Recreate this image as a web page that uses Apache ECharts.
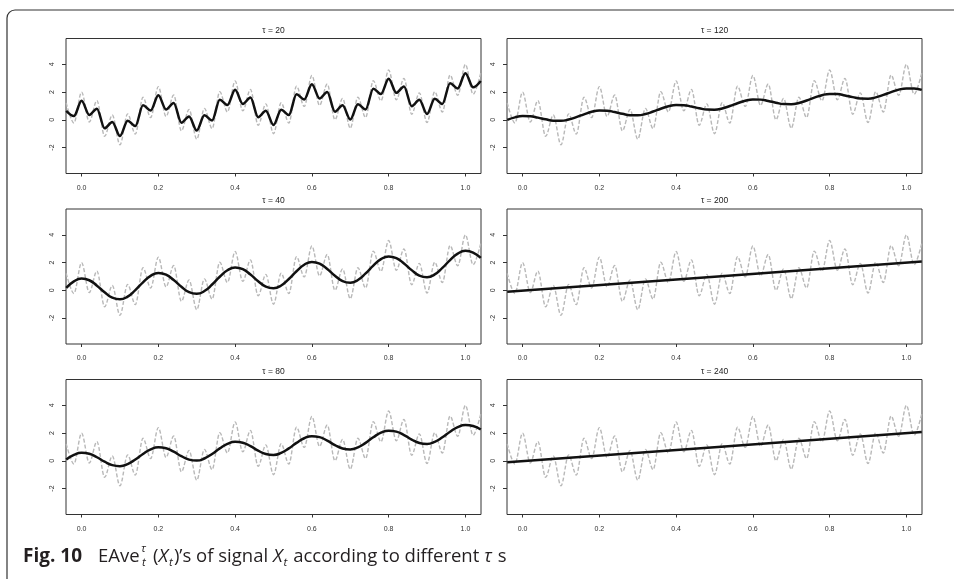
<!DOCTYPE html>
<html>
<head>
<meta charset="utf-8">
<title>EAve of signal Xt</title>
<script src="https://cdn.jsdelivr.net/npm/echarts@6.0.0/dist/echarts.min.js"></script>
<style>
  html, body { margin: 0; padding: 0; background: #fff; }
  #chart { width: 954px; height: 579px; }
</style>
</head>
<body>
<div id="chart"></div>
<script>
// sample times (every 0.02, i.e. at the peaks and troughs of the fast wave)
var tGrid = [-0.04, -0.02, 0.00, 0.02, 0.04, 0.06, 0.08, 0.10, 0.12, 0.14,
  0.16, 0.18, 0.20, 0.22, 0.24, 0.26, 0.28, 0.30, 0.32, 0.34,
  0.36, 0.38, 0.40, 0.42, 0.44, 0.46, 0.48, 0.50, 0.52, 0.54,
  0.56, 0.58, 0.60, 0.62, 0.64, 0.66, 0.68, 0.70, 0.72, 0.74,
  0.76, 0.78, 0.80, 0.82, 0.84, 0.86, 0.88, 0.90, 0.92, 0.94,
  0.96, 0.98, 1.00, 1.02, 1.04];

// signal X_t (gray dashed)
var signal = [1.23, -0.23, 2.00, -0.15, 1.39, -1.19, 0.35, -1.80, 0.43, -1.03,
  1.63, 0.17, 2.40, 0.25, 1.79, -0.79, 0.75, -1.40, 0.83, -0.63,
  2.03, 0.57, 2.80, 0.65, 2.19, -0.39, 1.15, -1.00, 1.23, -0.23,
  2.43, 0.97, 3.20, 1.05, 2.59, 0.01, 1.55, -0.60, 1.63, 0.17,
  2.83, 1.37, 3.60, 1.45, 2.99, 0.41, 1.95, -0.20, 2.03, 0.57,
  3.23, 1.77, 4.00, 1.85, 3.39];

// EAve for each tau (black)
var ave20 = [0.65, 0.27, 1.37, 0.35, 0.81, -0.61, -0.15, -1.17, -0.07, -0.45,
  1.05, 0.67, 1.77, 0.75, 1.21, -0.21, 0.25, -0.77, 0.33, -0.05,
  1.45, 1.07, 2.17, 1.15, 1.61, 0.19, 0.65, -0.37, 0.73, 0.35,
  1.85, 1.47, 2.57, 1.55, 2.01, 0.59, 1.05, 0.03, 1.13, 0.75,
  2.25, 1.87, 2.97, 1.95, 2.41, 0.99, 1.45, 0.43, 1.53, 1.15,
  2.65, 2.27, 3.37, 2.35, 2.81];
var ave40 = [0.18, 0.65, 0.85, 0.73, 0.34, -0.14, -0.53, -0.65, -0.45, 0.02,
  0.58, 1.05, 1.25, 1.13, 0.74, 0.26, -0.13, -0.25, -0.05, 0.42,
  0.98, 1.45, 1.65, 1.53, 1.14, 0.66, 0.27, 0.15, 0.35, 0.82,
  1.38, 1.85, 2.05, 1.93, 1.54, 1.06, 0.67, 0.55, 0.75, 1.22,
  1.78, 2.25, 2.45, 2.33, 1.94, 1.46, 1.07, 0.95, 1.15, 1.62,
  2.18, 2.65, 2.85, 2.73, 2.34];
var ave80 = [0.10, 0.43, 0.58, 0.51, 0.26, -0.06, -0.31, -0.38, -0.23, 0.10,
  0.50, 0.83, 0.98, 0.91, 0.66, 0.34, 0.09, 0.02, 0.17, 0.50,
  0.90, 1.23, 1.38, 1.31, 1.06, 0.74, 0.49, 0.42, 0.57, 0.90,
  1.30, 1.63, 1.78, 1.71, 1.46, 1.14, 0.89, 0.82, 0.97, 1.30,
  1.70, 2.03, 2.18, 2.11, 1.86, 1.54, 1.29, 1.22, 1.37, 1.70,
  2.10, 2.43, 2.58, 2.51, 2.26];
var ave120 = [0.00, 0.18, 0.27, 0.26, 0.16, 0.04, -0.06, -0.07, 0.02, 0.20,
  0.40, 0.58, 0.67, 0.66, 0.56, 0.44, 0.34, 0.33, 0.42, 0.60,
  0.80, 0.98, 1.07, 1.06, 0.96, 0.84, 0.74, 0.73, 0.82, 1.00,
  1.20, 1.38, 1.47, 1.46, 1.36, 1.24, 1.14, 1.13, 1.22, 1.40,
  1.60, 1.78, 1.87, 1.86, 1.76, 1.64, 1.54, 1.53, 1.62, 1.80,
  2.00, 2.18, 2.27, 2.26, 2.16];
// tau 200 / 240 are straight lines
var lineT = [-0.04, 0.50, 1.04];
var ave200 = [-0.10, 0.99, 2.08];
var ave240 = [-0.10, 0.99, 2.08];

var taus = [20, 40, 80, 120, 200, 240];
var xTicks = [0, 0.2, 0.4, 0.6, 0.8, 1.0];
var yTicks = [-2, 0, 2, 4];

function pairs(xs, ys) {
  return xs.map(function (x, i) { return [x, ys[i]]; });
}

var aveData = [
  pairs(tGrid, ave20), pairs(tGrid, ave40), pairs(tGrid, ave80),
  pairs(tGrid, ave120), pairs(lineT, ave200), pairs(lineT, ave240)
];
// only tau=20 still wiggles at every sample, so it is drawn like the signal
var aveWiggly = [true, false, false, false, false, false];

// layout: left column 20/40/80, right column 120/200/240
var colLeft = [66, 507];
var rowTop = [38.5, 209, 379.5];
var plotW = 415, plotH = 135;
var axisColor = '#333';
var labelFont = 'Liberation Sans';

var grids = [], xAxes = [], yAxes = [], series = [], graphics = [];

taus.forEach(function (tau, i) {
  var col = Math.floor(i / 3), row = i % 3;
  var left = colLeft[col], top = rowTop[row];
  grids.push({
    left: left, top: top, width: plotW, height: plotH,
    show: true, borderColor: axisColor, borderWidth: 1, backgroundColor: 'transparent'
  });
  xAxes.push({
    gridIndex: i, type: 'value', min: -0.0406, max: 1.0406, position: 'bottom',
    axisLine: { show: false, onZero: false },
    axisTick: { show: true, customValues: xTicks, length: 3, lineStyle: { color: axisColor } },
    axisLabel: {
      customValues: xTicks, fontSize: 7, color: '#333', fontFamily: labelFont, margin: 11,
      formatter: function (v) { return v.toFixed(1); }
    },
    splitLine: { show: false }
  });
  yAxes.push({
    gridIndex: i, type: 'value', min: -3.87, max: 5.87, position: 'left',
    axisLine: { show: false, onZero: false },
    axisTick: { show: true, customValues: yTicks, length: 4, lineStyle: { color: axisColor } },
    axisLabel: {
      customValues: yTicks, fontSize: 7, color: '#333', fontFamily: labelFont, margin: 10, rotate: 90
    },
    splitLine: { show: false }
  });
  series.push({
    type: 'line', xAxisIndex: i, yAxisIndex: i, data: pairs(tGrid, signal),
    smooth: 0.33, smoothMonotone: 'x', showSymbol: false, silent: true, z: 2,
    lineStyle: { color: '#b8b8b8', width: 1.4, type: [4, 2] }
  });
  series.push({
    type: 'line', xAxisIndex: i, yAxisIndex: i, data: aveData[i],
    smooth: aveWiggly[i] ? 0.33 : 0.5, smoothMonotone: aveWiggly[i] ? 'x' : null,
    showSymbol: false, silent: true, z: 3,
    lineStyle: { color: '#111', width: 2.5 }
  });
  graphics.push({
    type: 'text', x: left + plotW / 2, y: top - 8,
    style: { text: '\u03c4 = ' + tau, fontSize: 8.5, fontFamily: labelFont, fill: '#222', align: 'center', verticalAlign: 'middle' }
  });
});

// outer frame (open on right and bottom)
graphics.push({
  type: 'rect', shape: { x: 7, y: 10, width: 1200, height: 1000, r: 8 },
  style: { fill: 'none', stroke: '#333', lineWidth: 1.2 }, z: 10
});

// caption
var capFont = 'Open Sans';
var capColor = '#231f20';
var capY = 556.5;
graphics.push({
  type: 'text', x: 23, y: capY,
  style: { text: 'Fig. 10', fontSize: 19, fontWeight: 'bold', fontFamily: capFont, fill: capColor, verticalAlign: 'middle' }
});
graphics.push({
  type: 'text', x: 98, y: capY,
  style: { text: 'EAve', fontSize: 18.5, fontFamily: capFont, fill: capColor, verticalAlign: 'middle' }
});
graphics.push({
  type: 'text', x: 141, y: 549,
  style: { text: '\u03c4', fontSize: 11.5, fontStyle: 'italic', fontFamily: capFont, fill: capColor, verticalAlign: 'middle' }
});
graphics.push({
  type: 'text', x: 142, y: 563,
  style: { text: 't', fontSize: 11.5, fontStyle: 'italic', fontFamily: capFont, fill: capColor, verticalAlign: 'middle' }
});
graphics.push({
  type: 'text', x: 153, y: capY,
  style: {
    text: '{n|(}{i|X}{b|t}{n|)\u2019s of signal }{i|X}{b|t}{n| according to different }{i|\u03c4}{n| s}',
    verticalAlign: 'middle',
    rich: {
      n: { fontSize: 18.5, fontFamily: capFont, fill: capColor, lineHeight: 24 },
      i: { fontSize: 18.5, fontStyle: 'italic', fontFamily: capFont, fill: capColor, lineHeight: 24, padding: [0, 1, 0, 0] },
      b: { fontSize: 11.5, fontStyle: 'italic', fontFamily: capFont, fill: capColor, lineHeight: 16, verticalAlign: 'bottom', padding: [0, 1, 0, 0] }
    }
  }
});

var chart = echarts.init(document.getElementById('chart'), null, { renderer: 'canvas' });
chart.setOption({
  animation: false,
  backgroundColor: '#fff',
  grid: grids,
  xAxis: xAxes,
  yAxis: yAxes,
  series: series,
  graphic: graphics
});
</script>
</body>
</html>
